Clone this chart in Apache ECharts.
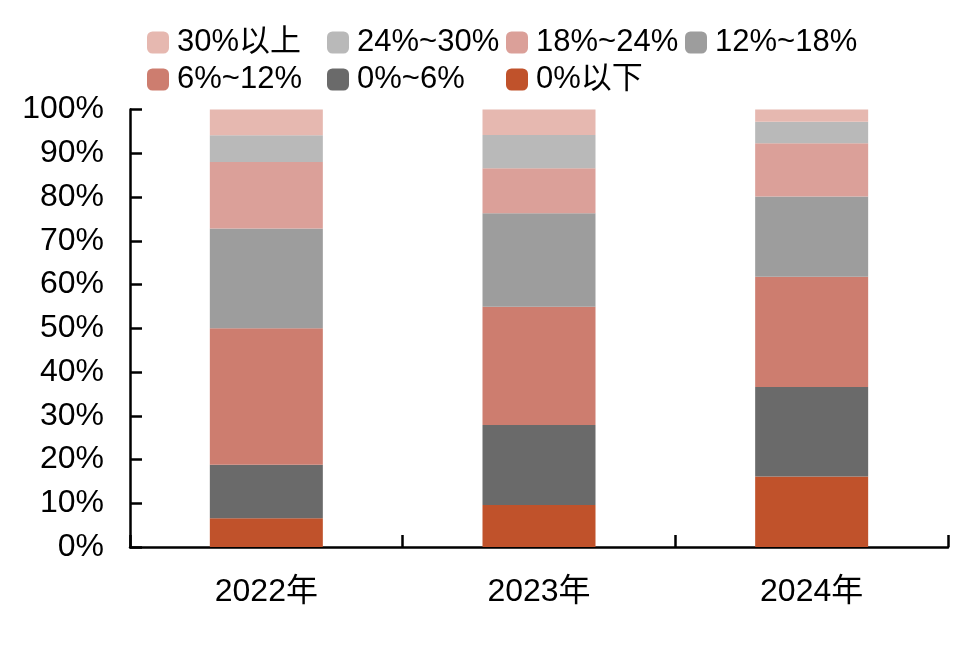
<!DOCTYPE html>
<html>
<head>
<meta charset="utf-8">
<script src="https://cdn.jsdelivr.net/npm/echarts@6/dist/echarts.min.js"></script>
<style>
html,body{margin:0;padding:0;background:#fff;}
#c{width:980px;height:646px;}
</style>
</head>
<body>
<div id="c"></div>
<script>
var categories = ['2022年', '2023年', '2024年'];
var seriesNames = ['0%以下', '0%~6%', '6%~12%', '12%~18%', '18%~24%', '24%~30%', '30%以上'];
var below0  = [6.6, 9.6, 16.1];
var r0_6    = [12.2, 18.3, 20.5];
var r6_12   = [31.2, 27.0, 25.2];
var r12_18  = [22.8, 21.4, 18.3];
var r18_24  = [15.2, 10.3, 12.2];
var r24_30  = [6.1, 7.6, 4.9];
var above30 = [5.9, 5.8, 2.8];
var yTicks = [0, 10, 20, 30, 40, 50, 60, 70, 80, 90, 100];

var values = [below0, r0_6, r6_12, r12_18, r18_24, r24_30, above30];
var colors = ['#c0522b', '#6a6a6a', '#cd7d6f', '#9d9d9d', '#dba099', '#b9b9b9', '#e6b8b0'];

var FONT = '"Liberation Sans", Arial, "Noto Sans CJK SC", sans-serif';

// legend layout: order in picture
var legendOrder = ['30%以上', '24%~30%', '18%~24%', '12%~18%', '6%~12%', '0%~6%', '0%以下'];
var colX = [147, 327, 506, 685];
var rowY = [27, 64];
var legends = legendOrder.map(function (name, i) {
  return {
    data: [name],
    left: colX[i % 4],
    top: rowY[Math.floor(i / 4)],
    itemWidth: 22,
    itemHeight: 22,
    itemStyle: { borderRadius: 2 },
    textStyle: { fontSize: 31, color: '#000', fontFamily: FONT, padding: [0, 0, 0, 3] },
    selectedMode: false,
    padding: 0
  };
});

var series = seriesNames.map(function (name, i) {
  return {
    name: name,
    type: 'bar',
    stack: 'total',
    barWidth: 113,
    itemStyle: { color: colors[i] },
    emphasis: { disabled: true },
    data: values[i]
  };
});

var chart = echarts.init(document.getElementById('c'), null, { renderer: 'canvas' });
chart.setOption({
  animation: false,
  backgroundColor: '#fff',
  legend: legends,
  grid: { left: 130, right: 32, top: 109.5, bottom: 99, containLabel: false },
  xAxis: {
    type: 'category',
    data: categories,
    boundaryGap: true,
    axisLine: { lineStyle: { color: '#000', width: 2.5 } },
    axisTick: { show: true, inside: true, interval: 0, alignWithLabel: false, length: 12, lineStyle: { color: '#000', width: 2.5 } },
    axisLabel: { fontSize: 32, color: '#000', margin: 29, fontFamily: FONT }
  },
  yAxis: {
    type: 'value',
    min: yTicks[0],
    max: yTicks[yTicks.length - 1],
    interval: 10,
    splitLine: { show: false },
    axisLine: { show: true, lineStyle: { color: '#000', width: 2.5 } },
    axisTick: { show: true, inside: true, length: 12, lineStyle: { color: '#000', width: 2.5 } },
    axisLabel: { fontSize: 32, color: '#000', margin: 26, fontFamily: FONT, formatter: '{value}%' }
  },
  series: series
});
</script>
</body>
</html>
